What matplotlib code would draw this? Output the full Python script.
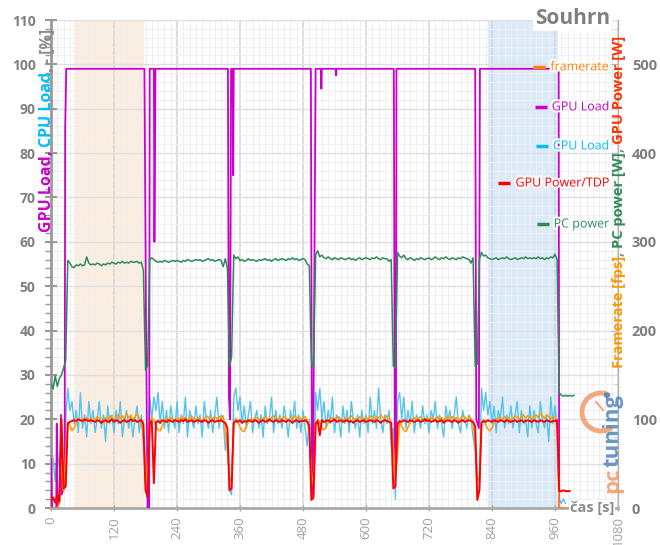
import numpy as np
import matplotlib.pyplot as plt
import matplotlib.patheffects as pe
from matplotlib.lines import Line2D
from matplotlib.patches import Arc, Circle
from matplotlib.ticker import MultipleLocator

plt.rcParams['font.family'] = ['Open Sans', 'DejaVu Sans']

nan = np.nan

# time axis of the noisy series (one sample every 4 s)
t_sec = np.arange(0, 1000, 4)

cpu_load = [
  14, 11, 6, 13, 9, 16, 5, 20, 27, 22,
  24, 19, 22, 17, 26, 18, 21, 16, 24, 19,
  22, 17, 20, 24, 18, 21, 15, 23, 19, 21,
  17, 22, 19, 24, 16, 20, 22, 18, 21, 16,
  20, 23, 17, 21, 14, 5, 4, 25, 20, 25,
  22, 26, 19, 24, 18, 22, 17, 23, 20, 18,
  24, 17, 21, 19, 25, 16, 22, 20, 18, 23,
  19, 21, 16, 24, 20, 18, 22, 17, 21, 25,
  18, 21, 20, 13, 17, 4, 3, 25, 27, 22,
  25, 19, 23, 18, 21, 24, 17, 20, 22, 18,
  21, 16, 23, 19, 20, 25, 17, 22, 19, 21,
  18, 23, 20, 16, 22, 19, 24, 18, 21, 17,
  22, 18, 14, 20, 3, 2, 26, 22, 27, 20,
  24, 18, 22, 19, 25, 17, 21, 20, 16, 23,
  19, 22, 17, 24, 20, 18, 21, 16, 22, 19,
  21, 17, 25, 19, 22, 18, 27, 20, 17, 21,
  19, 22, 14, 18, 2, 24, 26, 20, 25, 18,
  22, 19, 24, 17, 21, 20, 18, 23, 19, 21,
  17, 22, 20, 24, 18, 21, 19, 16, 23, 20,
  22, 18, 21, 25, 19, 17, 22, 20, 18, 21,
  20, 16, 13, 3, 4, 27, 22, 26, 21, 24,
  19, 23, 17, 22, 20, 25, 18, 21, 19, 23,
  18, 21, 24, 17, 22, 19, 20, 16, 23, 18,
  22, 19, 17, 24, 20, 18, 21, 15, 25, 19,
  23, 18, 2, 1, 2, 1, nan, nan, nan, nan,
]

framerate = [
  0, 0, 0, 0, 5, 55, 18, 60, 97, 93,
  87, 90, 96, 101, 98, 100, 97, 102, 99, 101,
  98, 100, 103, 101, 97, 99, 102, 100, 104, 101,
  99, 103, 105, 101, 104, 100, 106, 102, 104, 99,
  103, 106, 101, 97, 85, 45, 25, 95, 102, 99,
  92, 88, 87, 93, 98, 101, 99, 102, 100, 98,
  101, 99, 103, 100, 102, 98, 101, 104, 100, 99,
  102, 100, 98, 101, 104, 102, 99, 101, 103, 100,
  103, 101, 104, 88, 65, 35, 30, 96, 101, 97,
  91, 87, 86, 92, 97, 100, 99, 101, 102, 100,
  99, 101, 103, 100, 98, 102, 104, 101, 99, 102,
  100, 103, 101, 99, 102, 100, 104, 101, 103, 100,
  102, 103, 99, 82, 40, 25, 94, 100, 96, 90,
  88, 91, 96, 100, 102, 99, 101, 103, 100, 98,
  101, 99, 102, 104, 100, 101, 98, 103, 101, 99,
  102, 100, 104, 101, 99, 103, 101, 105, 102, 100,
  104, 102, 95, 70, 35, 60, 98, 92, 88, 86,
  91, 97, 100, 102, 99, 101, 103, 100, 98, 101,
  100, 102, 99, 101, 103, 100, 102, 99, 101, 104,
  101, 103, 100, 102, 99, 101, 104, 102, 100, 103,
  101, 94, 75, 35, 30, 95, 100, 94, 89, 87,
  90, 96, 100, 102, 99, 101, 103, 100, 102, 99,
  101, 104, 102, 100, 103, 105, 101, 104, 102, 100,
  103, 105, 102, 106, 104, 101, 105, 103, 100, 104,
  101, 92, 0, 0, 0, 0, 0, nan, nan, nan,
]

gpu_power = [
  8, 12, 6, 15, 7, 100, 22, 24, 95, 97,
  98, 99, 98, 100, 99, 98, 100, 99, 98, 99,
  98, 97, 99, 98, 96, 98, 99, 97, 98, 100,
  97, 99, 98, 96, 98, 99, 97, 98, 100, 98,
  99, 97, 98, 99, 95, 20, 12, 96, 98, 28,
  97, 98, 96, 99, 98, 97, 99, 98, 97, 99,
  98, 97, 99, 98, 100, 97, 98, 99, 97, 98,
  99, 98, 97, 99, 98, 96, 98, 99, 97, 98,
  98, 99, 97, 96, 90, 20, 22, 96, 98, 97,
  99, 96, 98, 97, 99, 98, 97, 99, 98, 96,
  98, 99, 97, 98, 100, 98, 97, 99, 98, 97,
  99, 98, 97, 99, 98, 96, 98, 99, 97, 98,
  98, 99, 97, 93, 9, 12, 95, 98, 82, 99,
  97, 98, 99, 97, 98, 100, 97, 98, 99, 97,
  98, 99, 97, 98, 96, 98, 99, 97, 98, 99,
  97, 98, 99, 98, 97, 99, 98, 96, 98, 99,
  98, 97, 96, 22, 24, 95, 98, 97, 99, 98,
  97, 99, 98, 97, 98, 99, 97, 98, 100, 98,
  99, 97, 98, 99, 97, 98, 99, 96, 98, 99,
  98, 97, 99, 98, 96, 98, 99, 97, 98, 99,
  98, 97, 92, 9, 20, 96, 98, 97, 99, 98,
  97, 99, 98, 97, 99, 98, 97, 99, 98, 97,
  98, 99, 97, 98, 99, 97, 98, 99, 98, 97,
  99, 98, 97, 99, 98, 97, 99, 98, 97, 98,
  98, 99, 19, 19, 20, 19, 19, 19, nan, nan,
]

pc_power = [
  140, 134, 149, 137, 146, 150, 158, 166, 279, 276,
  272, 271, 274, 273, 275, 273, 274, 283, 276, 274,
  275, 274, 276, 275, 273, 275, 274, 276, 275, 277,
  276, 275, 277, 276, 278, 276, 277, 276, 278, 277,
  277, 278, 276, 277, 268, 155, 160, 280, 282, 280,
  278, 277, 278, 277, 279, 278, 277, 278, 279, 278,
  279, 278, 277, 279, 278, 280, 279, 278, 279, 280,
  279, 280, 278, 279, 280, 281, 279, 280, 278, 279,
  280, 279, 272, 281, 270, 160, 170, 285, 281, 283,
  279, 280, 278, 279, 281, 279, 280, 279, 278, 280,
  279, 280, 281, 279, 280, 278, 280, 281, 279, 280,
  281, 280, 279, 281, 280, 282, 280, 281, 279, 280,
  281, 280, 275, 273, 165, 158, 285, 290, 283, 285,
  282, 281, 283, 281, 280, 282, 281, 280, 282, 281,
  280, 281, 282, 280, 281, 279, 281, 282, 280, 281,
  282, 281, 280, 282, 281, 283, 281, 280, 282, 281,
  281, 278, 280, 160, 158, 288, 284, 282, 285, 281,
  280, 282, 281, 279, 281, 280, 282, 281, 280, 281,
  282, 280, 281, 283, 281, 280, 282, 281, 283, 281,
  280, 282, 281, 280, 282, 281, 283, 282, 281, 280,
  276, 282, 160, 162, 280, 288, 284, 285, 282, 281,
  280, 281, 282, 280, 281, 282, 281, 283, 281, 280,
  281, 282, 280, 281, 282, 281, 283, 281, 282, 281,
  282, 281, 283, 281, 282, 280, 282, 281, 283, 282,
  286, 280, 130, 127, 126, 127, 126, 127, 126, 127,
]

# GPU load is a step signal, kept as breakpoints (s, %)
gpu_load_t = [0, 2, 10, 11, 12, 16, 19, 20, 26, 27, 29,
              178, 181, 184, 187, 188, 196, 197, 199,
              337, 339, 341, 343, 346, 347, 348,
              495, 497, 499, 504, 514, 515, 516, 542, 543, 544,
              653, 655, 657, 658,
              808, 810, 815, 817,
              967, 968, 972]
gpu_load = [11, 0, 0, 19, 0, 2, 21, 3, 5, 85, 99,
            99, 40, 0, 0, 99, 99, 60, 99,
            99, 25, 20, 99, 99, 75, 99,
            99, 10, 3, 99, 99, 94.5, 99, 99, 97.5, 99,
            99, 9, 10, 99,
            99, 20, 18, 99,
            99, 0, 0]

orange_span = (43, 178)
blue_span = (833, 966)

legend_items = ['framerate', 'GPU Load', 'CPU Load', 'GPU Power/TDP', 'PC power']
legend_colors = ['#ff7f00', '#cc00cc', '#00bfff', '#ff0000', '#2e8b57']
legend_y = [0.904, 0.822, 0.742, 0.666, 0.582]

W, H = 660, 545
fig = plt.figure(figsize=(W / 100, H / 100), dpi=100)
ax = fig.add_axes([51 / W, 37 / H, 567 / W, 488 / H])
ax2 = ax.twinx()

ax.axvspan(*orange_span, color='#fbd9b8', alpha=0.45, lw=0, zorder=0.5)
ax.axvspan(*blue_span, color='#b9d8f6', alpha=0.5, lw=0, zorder=0.5)

ax.plot(t_sec, cpu_load, color='#55c3ee', lw=1.0, zorder=2)
ax.plot(gpu_load_t, gpu_load, color='#cc00cc', lw=1.3, zorder=3)
ax2.plot(t_sec, framerate, color='#ff9a00', lw=1.1, zorder=2)
ax2.plot(t_sec, gpu_power, color='#ff0000', lw=1.4, zorder=3)
ax2.plot(t_sec, pc_power, color='#2e8b57', lw=1.1, zorder=4)

ax.set_xlim(0, 1080)
ax.set_ylim(0, 110)
ax2.set_ylim(0, 550)

ax.xaxis.set_major_locator(MultipleLocator(120))
ax.xaxis.set_minor_locator(MultipleLocator(12))
ax.yaxis.set_major_locator(MultipleLocator(10))
ax.yaxis.set_minor_locator(MultipleLocator(2))
ax.set_axisbelow(True)
ax.grid(which='minor', color='#eeeff2', lw=0.7)
ax.grid(which='major', axis='y', color='#dcdfe5', lw=1)
ax.grid(which='major', axis='x', color='#d3d6dc', lw=1.1)

for s in ['top', 'right']:
  ax.spines[s].set_visible(False)
for s in ['top', 'left', 'bottom']:
  ax2.spines[s].set_visible(False)
ax.spines['left'].set_color('#999999')
ax.spines['left'].set_linewidth(2)
ax.spines['bottom'].set_color('#aaaaaa')
ax.spines['bottom'].set_linewidth(2)
ax2.spines['right'].set_color('#b5b5b5')
ax2.spines['right'].set_linewidth(1)

ax.tick_params(axis='y', which='major', direction='inout', length=8, width=1.5,
               color='#999999', labelcolor='#7f7f7f', labelsize=10, pad=7)
ax.tick_params(axis='y', which='minor', direction='out', length=4, width=1, color='#999999')
ax.tick_params(axis='x', which='major', direction='inout', length=5, width=1,
               color='#aaaaaa', labelcolor='#a0a0a0', labelsize=9.5, labelrotation=90)
ax.tick_params(axis='x', which='minor', length=0)
ax2.set_yticks(range(0, 501, 100))
ax2.yaxis.set_minor_locator(MultipleLocator(20))
ax2.tick_params(axis='y', which='major', direction='in', length=5, color='#b5b5b5',
                labelcolor='#7f7f7f', labelsize=10.5, pad=10)
ax2.tick_params(axis='y', which='minor', direction='in', length=3, color='#c5c5c5')
plt.setp(ax.get_yticklabels(), fontweight='bold')
plt.setp(ax2.get_yticklabels(), fontweight='bold')

fig.canvas.draw()
renderer = fig.canvas.get_renderer()


def stack_text(x_px, y_px, pieces, size, weight='bold', alpha=1.0):
  # rotated text pieces, stacked from bottom to top
  y = y_px
  for s, c in pieces:
    t = fig.text(x_px / W, y / H, s, color=c, rotation=90, ha='center', va='bottom',
                 fontsize=size, fontweight=weight, alpha=alpha, zorder=5)
    y += t.get_window_extent(renderer).height


# pctuning logo (drawn first, under the axis title)
stack_text(613, 52, [('pc', '#f19a6a'), ('tuning', '#4f86bd')], 16, alpha=0.85)
fig.add_artist(Arc((601 / W, 133 / H), 38 / W, 38 / H, theta1=75, theta2=300,
                   color='#f19a6a', lw=3.5, alpha=0.85))
fig.add_artist(Circle((607 / W, 150 / H), 2.5 / W, color='#4f86bd', alpha=0.9))
fig.add_artist(Line2D([596 / W, 603 / W], [143 / H, 135 / H], color='#f19a6a', lw=1.5, alpha=0.85))

stack_text(47, 313, [('GPU Load', '#cc00cc'), (', ', '#cc00cc'), ('CPU Load', '#00bfff'),
                     (', - [%]', '#8c8c8c')], 11.5)
stack_text(619, 177, [('Framerate [fps]', '#ff9900'), (', ', '#8c8c8c'), ('PC power [W]', '#2e8b57'),
                      (', ', '#8c8c8c'), ('GPU Power [W]', '#ff3300')], 10.5)

white_glow = [pe.withStroke(linewidth=3, foreground='white')]
for lbl, col, yf in zip(legend_items, legend_colors, legend_y):
  txt = ax.text(0.985, yf, lbl, transform=ax.transAxes, ha='right', va='center',
                color=col, fontsize=9, path_effects=white_glow, zorder=10)
  bb = txt.get_window_extent(renderer)
  yc = (bb.y0 + bb.y1) / 2
  fig.add_artist(Line2D([(bb.x0 - 17) / W, (bb.x0 - 5) / W], [yc / H, yc / H],
                        color=col, lw=2.5, solid_capstyle='butt'))

fig.text(610 / W, 527 / H, 'Souhrn', ha='right', va='center', color='#808080',
         fontsize=15, fontweight='bold',
         bbox=dict(boxstyle='square,pad=0.1', fc='white', ec='none'))
fig.text(614 / W, 37 / H, 'čas [s]', ha='right', va='center', color='#8c8c8c',
         fontsize=10.5, fontweight='bold',
         bbox=dict(boxstyle='square,pad=0.05', fc='white', ec='none'))

fig.savefig('out.png', dpi=100)
